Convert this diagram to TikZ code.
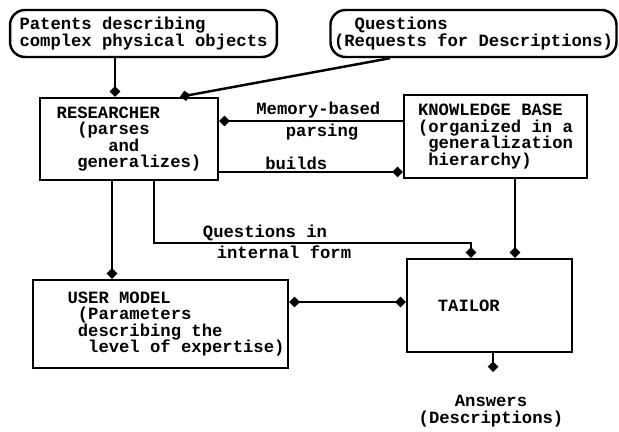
\documentclass[tikz,border=0pt]{standalone}
\usepackage{fontspec}
\setmonofont{Liberation Mono}
\usepackage{tikz}
\usetikzlibrary{arrows.meta}

\begin{document}
\begin{tikzpicture}[x=0.02cm,y=-0.02cm,
  box/.style={draw,line width=1.4pt,inner sep=2pt,align=left,font=\ttfamily\bfseries\fontsize{9.8}{9.4}\selectfont},
  pill/.style={box,rounded corners=0.3cm},
  lbl/.style={font=\ttfamily\bfseries\fontsize{9.8}{9.4}\selectfont,inner sep=0.8pt},
  con/.style={line width=1.4pt,-{Diamond[length=6pt,width=6pt]}}]
\useasboundingbox (0,0) rectangle (619,432);

\node[pill,minimum width=5.34cm,minimum height=0.94cm] (pat) at (143.5,33.5) {Patents describing\\complex physical objects};
\node[pill,minimum width=5.66cm,minimum height=0.94cm] (qst) at (473.5,33.5) {\phantom{xx}Questions\\(Requests for Descriptions)};
\node[box,minimum width=3.56cm,minimum height=1.64cm] (res) at (129,139) {RESEARCHER\\\phantom{xx}(parses\\\phantom{xxxxx}and\\\phantom{xx}generalizes)};
\node[box,minimum width=3.66cm,minimum height=1.66cm] (kb) at (495.5,136.5) {KNOWLEDGE BASE\\(organized in a\\\phantom{x}generalization\\\phantom{x}hierarchy)};
\node[box,minimum width=5.1cm,minimum height=1.76cm] (um) at (160.5,324) {\phantom{xxx}USER MODEL\\\phantom{xxxx}(Parameters\\\phantom{xxxx}describing the\\\phantom{xxxxx}level of expertise)};
\node[box,align=center,minimum width=3.3cm,minimum height=1.86cm] (tai) at (489.5,305.5) {TAILOR\phantom{xxxx}};
\node[lbl,align=center] (ans) at (491,411) {Answers\\(Descriptions)};

\coordinate (pdrop) at (115,0);
\coordinate (qfrom) at (390,0);
\coordinate (qto) at (180,0);
\coordinate (mem) at (0,121);
\coordinate (bld) at (0,172);
\coordinate (rum) at (112,0);
\coordinate (rq) at (154,0);
\coordinate (tq) at (471,0);
\coordinate (kbt) at (515,0);
\coordinate (dbl) at (0,302);
\coordinate (anstip) at (493,372);

\draw[con] (pat.south -| pdrop) -- (res.north -| pdrop);
\draw[con] (qst.south -| qfrom) -- (res.north -| qto);
\draw[con] (kb.west |- mem) -- node[lbl,pos=0.46,above] {Memory-based} node[lbl,pos=0.44,below] {parsing} (res.east |- mem);
\draw[con] (res.east |- bld) -- node[lbl,pos=0.42,above] {builds} (kb.west |- bld);
\draw[con] (res.south -| rum) -- (um.north -| rum);
\draw[con] (res.south -| rq) -- ++(0,62) -| node[lbl,pos=0.175,above] {Questions in} node[lbl,pos=0.205,below] {internal form} (tai.north -| tq);
\draw[con] (kb.south -| kbt) -- (tai.north -| kbt);
\draw[line width=1.4pt,{Diamond[length=6pt,width=6pt]}-{Diamond[length=6pt,width=6pt]}] (um.east |- dbl) -- (tai.west |- dbl);
%\draw[con] (tai.south) -- (ans.north);
\draw[con] (tai.south -| anstip) -- (anstip);
\end{tikzpicture}
\end{document}
